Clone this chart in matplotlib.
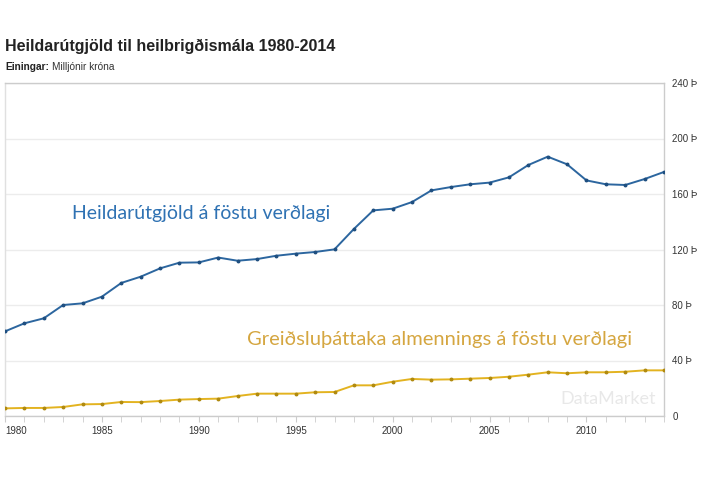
import matplotlib
matplotlib.use("Agg")
import matplotlib.pyplot as plt

# data (millions of kronur, constant prices)
years = list(range(1980, 2015))
total = [61.0, 66.8, 70.4, 80.0, 81.2, 86.0, 95.9, 100.4, 106.4, 110.5,
         110.7, 114.2, 111.9, 113.1, 115.5, 117.0, 118.2, 120.1, 134.8, 148.2,
         149.4, 154.2, 162.6, 165.0, 167.0, 168.2, 172.0, 180.9, 186.9, 181.4,
         169.8, 167.0, 166.5, 170.8, 175.9]
private = [5.5, 5.8, 5.8, 6.5, 8.4, 8.6, 10.1, 10.0, 10.8, 11.8,
           12.2, 12.5, 14.4, 16.1, 16.1, 16.1, 17.1, 17.3, 22.1, 22.1,
           24.7, 26.7, 26.2, 26.4, 26.9, 27.4, 28.3, 29.8, 31.5, 30.8,
           31.5, 31.5, 31.9, 32.9, 32.9]
yticks = [0, 40, 80, 120, 160, 200, 240]
ytick_labels = ["0", "40 Þ", "80 Þ", "120 Þ", "160 Þ", "200 Þ", "240 Þ"]
xtick_major = [1980, 1985, 1990, 1995, 2000, 2005, 2010]

plt.rcParams['font.family'] = ['Liberation Sans', 'DejaVu Sans']

fig = plt.figure(figsize=(7.05, 4.8), dpi=100)
ax = fig.add_axes([5/705, 1 - 416/480, 659/705, 333/480])

blue = "#2c669f"
gold = "#e3b320"

ax.plot(years, total, color=blue, lw=1.4, marker="o", ms=1.8, mfc="#1f4f80", mec="#1f4f80", zorder=3)
ax.plot(years, private, color=gold, lw=1.4, marker="o", ms=1.8, mfc="#b08a10", mec="#b08a10", zorder=3)

ax.set_xlim(1980, 2014)
ax.set_ylim(0, 240)

ax.yaxis.tick_right()
ax.set_yticks(yticks)
ax.set_yticklabels(ytick_labels, fontsize=7, color="#333333")
ax.tick_params(axis="y", length=0, pad=6)
ax.grid(axis="y", color="#ececec", lw=1)
ax.set_axisbelow(True)

ax.set_xticks(years, minor=True)
ax.set_xticks(xtick_major)
ax.set_xticklabels([str(y) for y in xtick_major], fontsize=7, color="#333333")
ax.get_xticklabels()[0].set_horizontalalignment("left")
ax.tick_params(axis="x", which="both", length=4, color="#cccccc", pad=3)

for side in ["left", "top", "bottom", "right"]:
    ax.spines[side].set_color("#cccccc")
    ax.spines[side].set_linewidth(1)
ax.spines["left"].set_color("#e0e0e0")

ax.text(1983.45, 146, "Heildarútgjöld á föstu verðlagi", color="#2f72b3",
        fontsize=14, va="center", ha="left", family=["Lato", "DejaVu Sans"])
ax.text(1992.5, 55, "Greiðsluþáttaka almennings á föstu verðlagi", color="#d5a640",
        fontsize=14.5, va="center", ha="left", family=["Lato", "DejaVu Sans"])
ax.text(2013.6, 12, "DataMarket", color="#e8e8e8", fontsize=13, ha="right", va="center",
        family=["Lato", "DejaVu Sans"])

fig.text(5/705, 1 - 46/480, "Heildarútgjöld til heilbrigðismála 1980-2014",
         fontsize=11.5, fontweight="bold", color="#222222", va="center")
fig.text(5/705, 1 - 67/480, "Einingar:", fontsize=7.3, fontweight="bold", color="#222222", va="center")
fig.text(52/705, 1 - 67/480, "Milljónir króna", fontsize=7.3, color="#333333", va="center")

fig.savefig("out.png", dpi=100, facecolor="white")
